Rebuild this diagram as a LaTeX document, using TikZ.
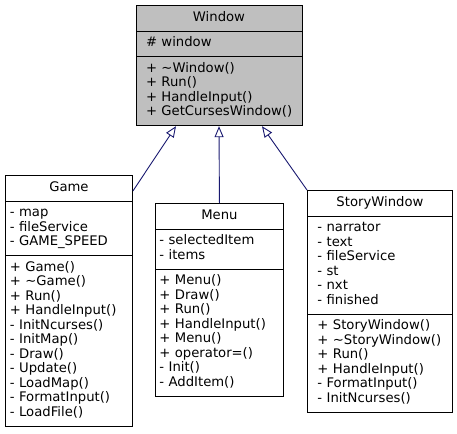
\documentclass[tikz,border=0pt]{standalone}
\usepackage{fontspec}
\setmainfont{DejaVu Sans}
\usetikzlibrary{shapes.multipart, arrows.meta, positioning}
\definecolor{midnightblue}{RGB}{25,25,112}
\tikzset{
  classbox/.style={draw=black, line width=0.9pt, fill=white,
    rectangle split, rectangle split parts=3, inner ysep=5.1pt,
    align=left, font=\fontsize{13.2}{14.5}\selectfont},
  basebox/.style={classbox, fill=black!25}
}
\tikzset{
  inherit/.style={draw=midnightblue, line width=0.9pt,
    -{Triangle[open, length=11pt, width=9pt]}}
}
\newcommand{\umltitle}[1]{{\centering\strut#1\par}}
\newcommand{\umllist}[1]{\foreach \m in {#1}{\strut\mbox{\m}\par}}

\begin{document}
\begin{tikzpicture}[x=1pt, y=-1pt]
  \useasboundingbox (0,0) rectangle (457,433);
  % base class
  \node[basebox, text width=146pt, inner xsep=10pt, anchor=north] (window) at (219,5)
    {\umltitle{Window}
     \nodepart{two}\umllist{\# window}
     \nodepart{three}\umllist{+ \textasciitilde Window(), + Run(), + HandleInput(), + GetCursesWindow()}};
  % derived classes
  \node[classbox, text width=118pt, inner xsep=4.5pt, anchor=north west] (game) at (5,175)
    {\umltitle{Game}
     \nodepart{two}\umllist{- map, - fileService, - GAME\_SPEED}
     \nodepart{three}\umllist{+ Game(), + \textasciitilde Game(), + Run(), + HandleInput(),
       - InitNcurses(), - InitMap(), - Draw(), - Update(), - LoadMap(), - FormatInput(), - LoadFile()}};
  \node[classbox, text width=120pt, inner xsep=4pt, anchor=north west] (menu) at (155,203)
    {\umltitle{Menu}
     \nodepart{two}\umllist{- selectedItem, - items}
     \nodepart{three}\umllist{+ Menu(), + Draw(), + Run(), + HandleInput(), + Menu(),
       + operator=(), - Init(), - AddItem()}};
  \node[classbox, text width=125pt, inner xsep=10pt, anchor=north west] (story) at (307,190)
    {\umltitle{StoryWindow}
     \nodepart{two}\umllist{- narrator, - text, - fileService, - st, - nxt, - finished}
     \nodepart{three}\umllist{+ StoryWindow(), + \textasciitilde StoryWindow(), + Run(),
       + HandleInput(), - FormatInput(), - InitNcurses()}};
  % inheritance arrows
  \coordinate (gamefrom) at ([yshift=-16pt]game.north east);
  \coordinate (gameto) at ([xshift=-43pt]window.south);
  \coordinate (storyto) at ([xshift=43pt]window.south);
  \draw[inherit] (gamefrom) -- (gameto);
  \draw[inherit] (menu.north) -- (window.south);
  \draw[inherit] (story.north west) -- (storyto);
\end{tikzpicture}
\end{document}
